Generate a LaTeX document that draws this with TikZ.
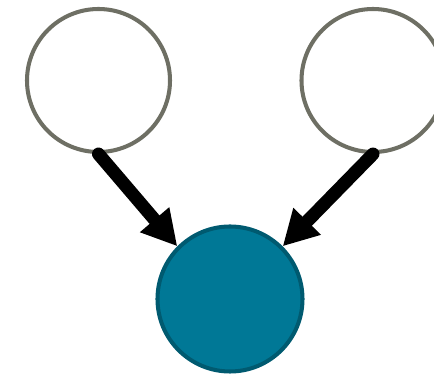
\documentclass[tikz,border=0pt]{standalone}
\usepackage{tikz}
\usetikzlibrary{arrows.meta}

\definecolor{ringgray}{HTML}{6E6F64}
\definecolor{tealfill}{HTML}{007896}
\definecolor{tealedge}{HTML}{005A70}

\begin{document}
\begin{tikzpicture}[>={Triangle[length=.7cm,width=.72cm]},
  latent/.style={circle,draw=ringgray,line width=2.3pt,minimum size=2.86cm,inner sep=0pt},
  observed/.style={circle,draw=tealedge,fill=tealfill,line width=2.3pt,minimum size=2.9cm,inner sep=0pt},
  edge/.style={->,line width=7.4pt,line cap=round}]
\useasboundingbox (0,0) rectangle (8.68,7.48);
\node[latent] (u) at (1.97,5.87) {};
\node[latent] (v) at (7.46,5.87) {};
\node[observed] (w) at (4.60,1.50) {};
\draw[edge] (u.south)--(w.north west);
\draw[edge] (v.south)--(w.north east);
\end{tikzpicture}
\end{document}
